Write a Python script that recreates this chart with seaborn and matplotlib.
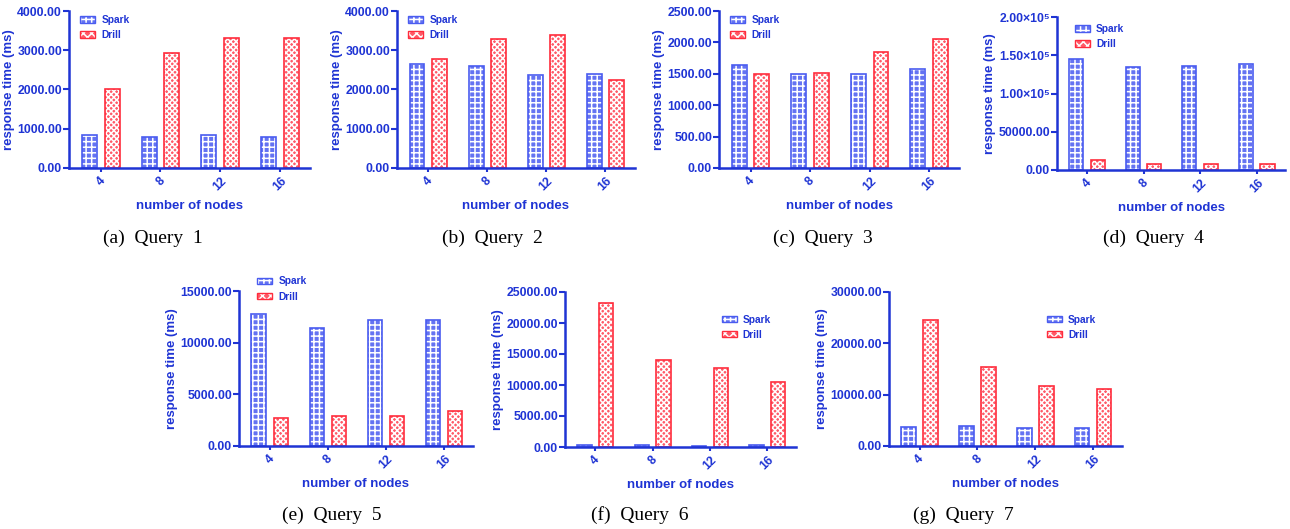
import matplotlib
matplotlib.use("Agg")
import matplotlib.pyplot as plt
from matplotlib.patches import Patch, Rectangle
from matplotlib.ticker import FuncFormatter
import pandas as pd
import seaborn as sns

## dados

nodes = ["4", "8", "12", "16"]
systems = ["Spark", "Drill"]

q1_spark = [830, 780, 830, 800]
q1_drill = [2000, 2940, 3300, 3320]
q2_spark = [2650, 2600, 2380, 2400]
q2_drill = [2770, 3290, 3400, 2230]
q3_spark = [1640, 1500, 1500, 1570]
q3_drill = [1500, 1520, 1850, 2050]
q4_spark = [145000, 135000, 136000, 139000]
q4_drill = [13000, 8000, 8000, 7500]
q5_spark = [12800, 11400, 12200, 12200]
q5_drill = [2700, 2900, 2900, 3400]
q6_spark = [250, 250, 200, 250]
q6_drill = [23300, 14000, 12700, 10500]
q7_spark = [3700, 3800, 3600, 3600]
q7_drill = [24500, 15400, 11600, 11100]

captions = ["(a)  Query  1", "(b)  Query  2", "(c)  Query  3", "(d)  Query  4",
            "(e)  Query  5", "(f)  Query  6", "(g)  Query  7"]
y_max = [4000, 4000, 2500, 200000, 15000, 25000, 30000]
y_step = [1000, 1000, 500, 50000, 5000, 5000, 10000]

sns.set_theme(style="white")
plt.rcParams["font.family"] = ["Liberation Sans", "DejaVu Sans"]
plt.rcParams["hatch.linewidth"] = 1.1

AZUL = "#1f34d4"
SPARK_FACE = "#6473f2"
SPARK_EDGE = "#4a5cf0"
DRILL_FACE = "#ff5a68"
DRILL_EDGE = "#ff2c3c"

W, H = 1290, 529
fig = plt.figure(figsize=(12.9, 5.29), dpi=100)

# caixas dos eixos em pixels: (esq, topo, dir, base)
caixas = [(69, 11, 310, 168), (397, 11, 635, 168), (719, 11, 959, 168),
          (1057, 17, 1285, 170), (239, 291, 473, 446), (565, 292, 796, 447),
          (889, 292, 1122, 446)]
legenda_ancora = [(0.03, 1.0), (0.03, 1.0), (0.03, 1.0), (0.06, 0.98),
                  (0.06, 1.12), (0.66, 0.88), (0.66, 0.88)]
captions_pos = [(153, 238), (492, 238), (823, 238), (1153, 238),
                (332, 515), (640, 515), (963, 515)]

dados = [(q1_spark, q1_drill), (q2_spark, q2_drill), (q3_spark, q3_drill),
         (q4_spark, q4_drill), (q5_spark, q5_drill), (q6_spark, q6_drill),
         (q7_spark, q7_drill)]


def formata(v, pos):
    if v >= 100000:
        return f"{v / 1e5:.2f}×10⁵"
    return f"{v:.2f}"


for i, (spark, drill) in enumerate(dados):
    l, t, r, b = caixas[i]
    ax = fig.add_axes([l / W, 1 - b / H, (r - l) / W, (b - t) / H])

    df = pd.DataFrame({
        "nodes": nodes * 2,
        "system": ["Spark"] * 4 + ["Drill"] * 4,
        "time": spark + drill,
    })
    sns.barplot(data=df, x="nodes", y="time", hue="system", order=nodes,
                hue_order=systems, palette=[SPARK_FACE, DRILL_FACE],
                width=0.76, gap=0.34, legend=False, ax=ax, saturation=1)

    n = len(nodes)
    for j, p in enumerate(list(ax.patches)):
        serie = j // n
        p.set_edgecolor("white")
        p.set_linewidth(0)
        p.set_hatch("+++" if serie == 0 else "xxxxxx")
        ax.add_patch(Rectangle(p.get_xy(), p.get_width(), p.get_height(),
                               fill=False, lw=1.2,
                               edgecolor=SPARK_EDGE if serie == 0 else DRILL_EDGE))

    ax.set_xlim(-0.53, n - 0.5)
    ax.set_ylim(0, y_max[i])
    ax.set_yticks(range(0, y_max[i] + 1, y_step[i]))
    ax.yaxis.set_major_formatter(FuncFormatter(formata))

    sns.despine(ax=ax)
    for s in ["left", "bottom"]:
        ax.spines[s].set_color(AZUL)
        ax.spines[s].set_linewidth(1.8)
    ax.tick_params(axis="y", colors=AZUL, direction="out", length=4, width=1.5,
                   left=True, pad=1, labelsize=8.8)
    ax.tick_params(axis="x", colors=AZUL, direction="out", length=3, width=1.5,
                   bottom=True, pad=2, labelsize=8.8)
    for lab in ax.get_yticklabels() + ax.get_xticklabels():
        lab.set_fontweight("bold")
        lab.set_color(AZUL)
    for lab in ax.get_xticklabels():
        lab.set_rotation(45)
        lab.set_ha("center")

    ax.set_xlabel("number of nodes", fontsize=9.5, fontweight="bold", color=AZUL,
                  labelpad=5)
    ax.set_ylabel("response time (ms)", fontsize=9.5, fontweight="bold", color=AZUL,
                  labelpad=2)

    handles = [
        (Patch(facecolor=SPARK_FACE, edgecolor="white", hatch="+++", lw=0),
         Patch(fill=False, edgecolor=SPARK_EDGE, lw=1.0)),
        (Patch(facecolor=DRILL_FACE, edgecolor="white", hatch="xxxx", lw=0),
         Patch(fill=False, edgecolor=DRILL_EDGE, lw=1.0)),
    ]
    leg = ax.legend(handles, systems, loc="upper left",
                    bbox_to_anchor=legenda_ancora[i], frameon=False,
                    prop={"size": 7.3, "weight": "bold"}, handlelength=1.5,
                    handleheight=0.6, labelspacing=0.5, handletextpad=0.6,
                    borderaxespad=0)
    for txt in leg.get_texts():
        txt.set_color(AZUL)

    cx, cy = captions_pos[i]
    fig.text(cx / W, 1 - cy / H, captions[i], ha="center", va="center",
             fontsize=14, family="Liberation Serif", color="black")

fig.savefig("out.png", dpi=100)
